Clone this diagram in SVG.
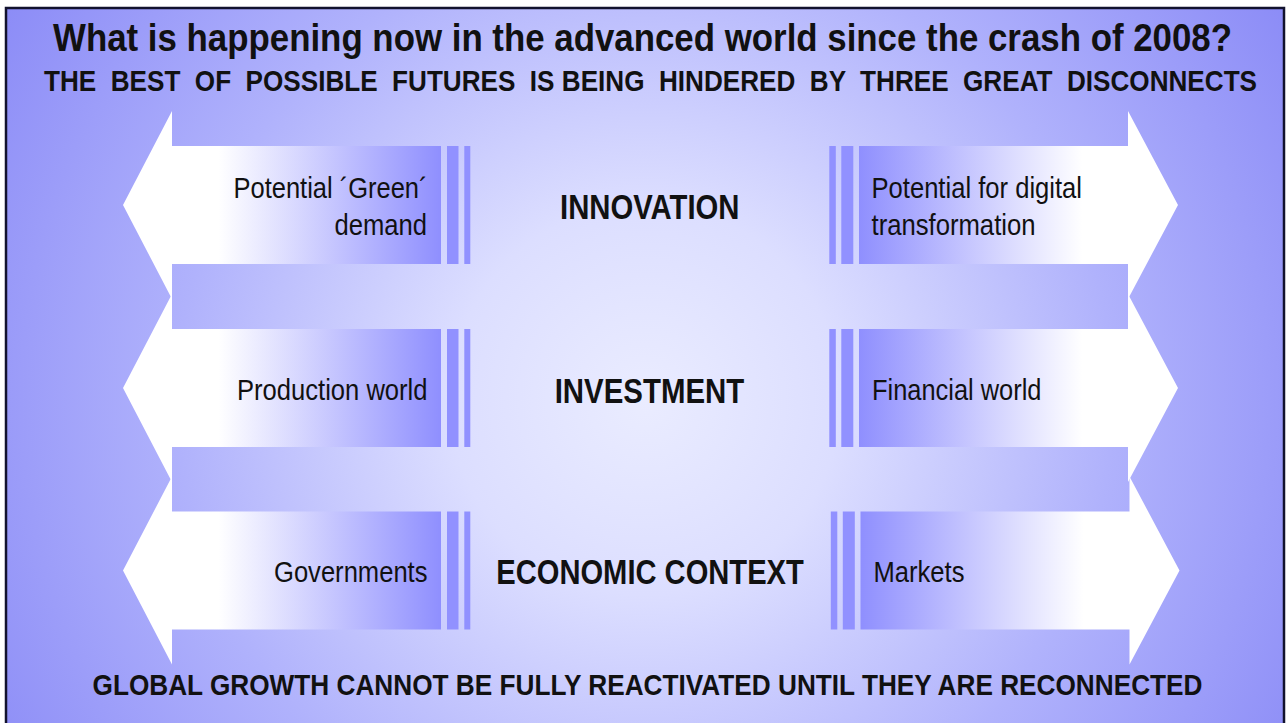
<svg xmlns="http://www.w3.org/2000/svg" width="1287" height="723" viewBox="0 0 1287 723">
  <style>
    text { font-family: "Liberation Sans Narrow", "Liberation Sans", Arial, sans-serif; fill: #111111; }
    .title { font-size: 38px; font-weight: bold; }
    .sub { font-size: 30px; font-weight: bold; white-space: pre; }
    .side { font-size: 30px; }
    .center { font-size: 35px; font-weight: bold; }
    .foot { font-size: 30px; font-weight: bold; }
    .bar { fill: #9191ff; }
  </style>
  <defs>
    <radialGradient id="bg" gradientUnits="userSpaceOnUse" cx="645" cy="400" r="780">
      <stop offset="0" stop-color="#eaecff"/>
      <stop offset="0.25" stop-color="#dcdeff"/>
      <stop offset="0.6" stop-color="#b0b2fc"/>
      <stop offset="1" stop-color="#8888f6"/>
    </radialGradient>
    <!-- shaft fades from the bars (blue) to the white head -->
    <linearGradient id="fadeLeft" x1="0" y1="0" x2="1" y2="0">
      <stop offset="0" stop-color="#ffffff"/>
      <stop offset="0.3" stop-color="#ffffff"/>
      <stop offset="1" stop-color="#8f8ffe"/>
    </linearGradient>
    <linearGradient id="fadeRight" x1="0" y1="0" x2="1" y2="0">
      <stop offset="0" stop-color="#8f8ffe"/>
      <stop offset="0.7" stop-color="#ffffff"/>
      <stop offset="1" stop-color="#ffffff"/>
    </linearGradient>
    <!-- arrow outlines, drawn around the row centre line y=0 -->
    <path id="arrowL" d="M123,0 L172,-94 L172,-59 L441,-59 L441,59 L172,59 L172,94 Z"/>
    <path id="arrowR" d="M1178,0 L1128,-94 L1128,-59 L859,-59 L859,59 L1128,59 L1128,94 Z"/>
    <g id="barsL">
      <rect class="bar" x="447" y="-59" width="11.5" height="118"/>
      <rect class="bar" x="464.3" y="-59" width="6" height="118"/>
    </g>
    <g id="barsR">
      <rect class="bar" x="829.3" y="-59" width="6.5" height="118"/>
      <rect class="bar" x="841.3" y="-59" width="12" height="118"/>
    </g>
  </defs>

  <!-- frame and background -->
  <rect x="0" y="0" width="1287" height="723" fill="#ffffff"/>
  <rect id="frame" x="6" y="8" width="1278" height="740" fill="url(#bg)" stroke="#12122e" stroke-width="2.5"/>

  <!-- headings -->
  <g id="heading">
    <text class="title" x="53" y="50.5" textLength="1179" lengthAdjust="spacingAndGlyphs">What is happening now in the advanced world since the crash of 2008?</text>
    <text class="sub" x="44" y="91" textLength="1213" lengthAdjust="spacingAndGlyphs" xml:space="preserve">THE  BEST  OF  POSSIBLE  FUTURES  IS BEING  HINDERED  BY  THREE  GREAT  DISCONNECTS</text>
  </g>

  <!-- row 1: innovation -->
  <g id="innovation-left" transform="translate(0,205)">
    <use href="#arrowL" fill="url(#fadeLeft)"/>
    <use href="#barsL"/>
    <text class="side" x="233.5" y="-7" textLength="194" lengthAdjust="spacingAndGlyphs">Potential ´Green´</text>
    <text class="side" x="334.5" y="30" textLength="92.5" lengthAdjust="spacingAndGlyphs">demand</text>
  </g>
  <g id="innovation" transform="translate(0,205)">
    <text class="center" x="560" y="14" textLength="179.5" lengthAdjust="spacingAndGlyphs">INNOVATION</text>
  </g>
  <g id="innovation-right" transform="translate(0,205)">
    <use href="#arrowR" fill="url(#fadeRight)"/>
    <use href="#barsR"/>
    <text class="side" x="871.5" y="-7" textLength="210.5" lengthAdjust="spacingAndGlyphs">Potential for digital</text>
    <text class="side" x="871.5" y="30" textLength="164" lengthAdjust="spacingAndGlyphs">transformation</text>
  </g>

  <!-- row 2: investment -->
  <g id="investment-left" transform="translate(0,388)">
    <use href="#arrowL" fill="url(#fadeLeft)"/>
    <use href="#barsL"/>
    <text class="side" x="237" y="11.5" textLength="190.5" lengthAdjust="spacingAndGlyphs">Production world</text>
  </g>
  <g id="investment" transform="translate(0,388)">
    <text class="center" x="554.7" y="14.5" textLength="189.5" lengthAdjust="spacingAndGlyphs">INVESTMENT</text>
  </g>
  <g id="investment-right" transform="translate(0,388)">
    <use href="#arrowR" fill="url(#fadeRight)"/>
    <use href="#barsR"/>
    <text class="side" x="872" y="11.5" textLength="169.5" lengthAdjust="spacingAndGlyphs">Financial world</text>
  </g>

  <!-- row 3: economic context -->
  <g id="economic-left" transform="translate(0,570.5)">
    <use href="#arrowL" fill="url(#fadeLeft)"/>
    <use href="#barsL"/>
    <text class="side" x="274" y="11.5" textLength="153.5" lengthAdjust="spacingAndGlyphs">Governments</text>
  </g>
  <g id="economic-context" transform="translate(0,570.5)">
    <text class="center" x="496.3" y="13.5" textLength="307.5" lengthAdjust="spacingAndGlyphs">ECONOMIC CONTEXT</text>
  </g>
  <g id="economic-right" transform="translate(1.5,570.5)">
    <use href="#arrowR" fill="url(#fadeRight)"/>
    <use href="#barsR"/>
    <text class="side" x="872" y="11.5" textLength="91" lengthAdjust="spacingAndGlyphs">Markets</text>
  </g>

  <!-- closing statement -->
  <g id="conclusion">
    <text class="foot" x="92.5" y="695" textLength="1110" lengthAdjust="spacingAndGlyphs">GLOBAL GROWTH CANNOT BE FULLY REACTIVATED UNTIL THEY ARE RECONNECTED</text>
  </g>
  <g id="connectors"/>
</svg>
